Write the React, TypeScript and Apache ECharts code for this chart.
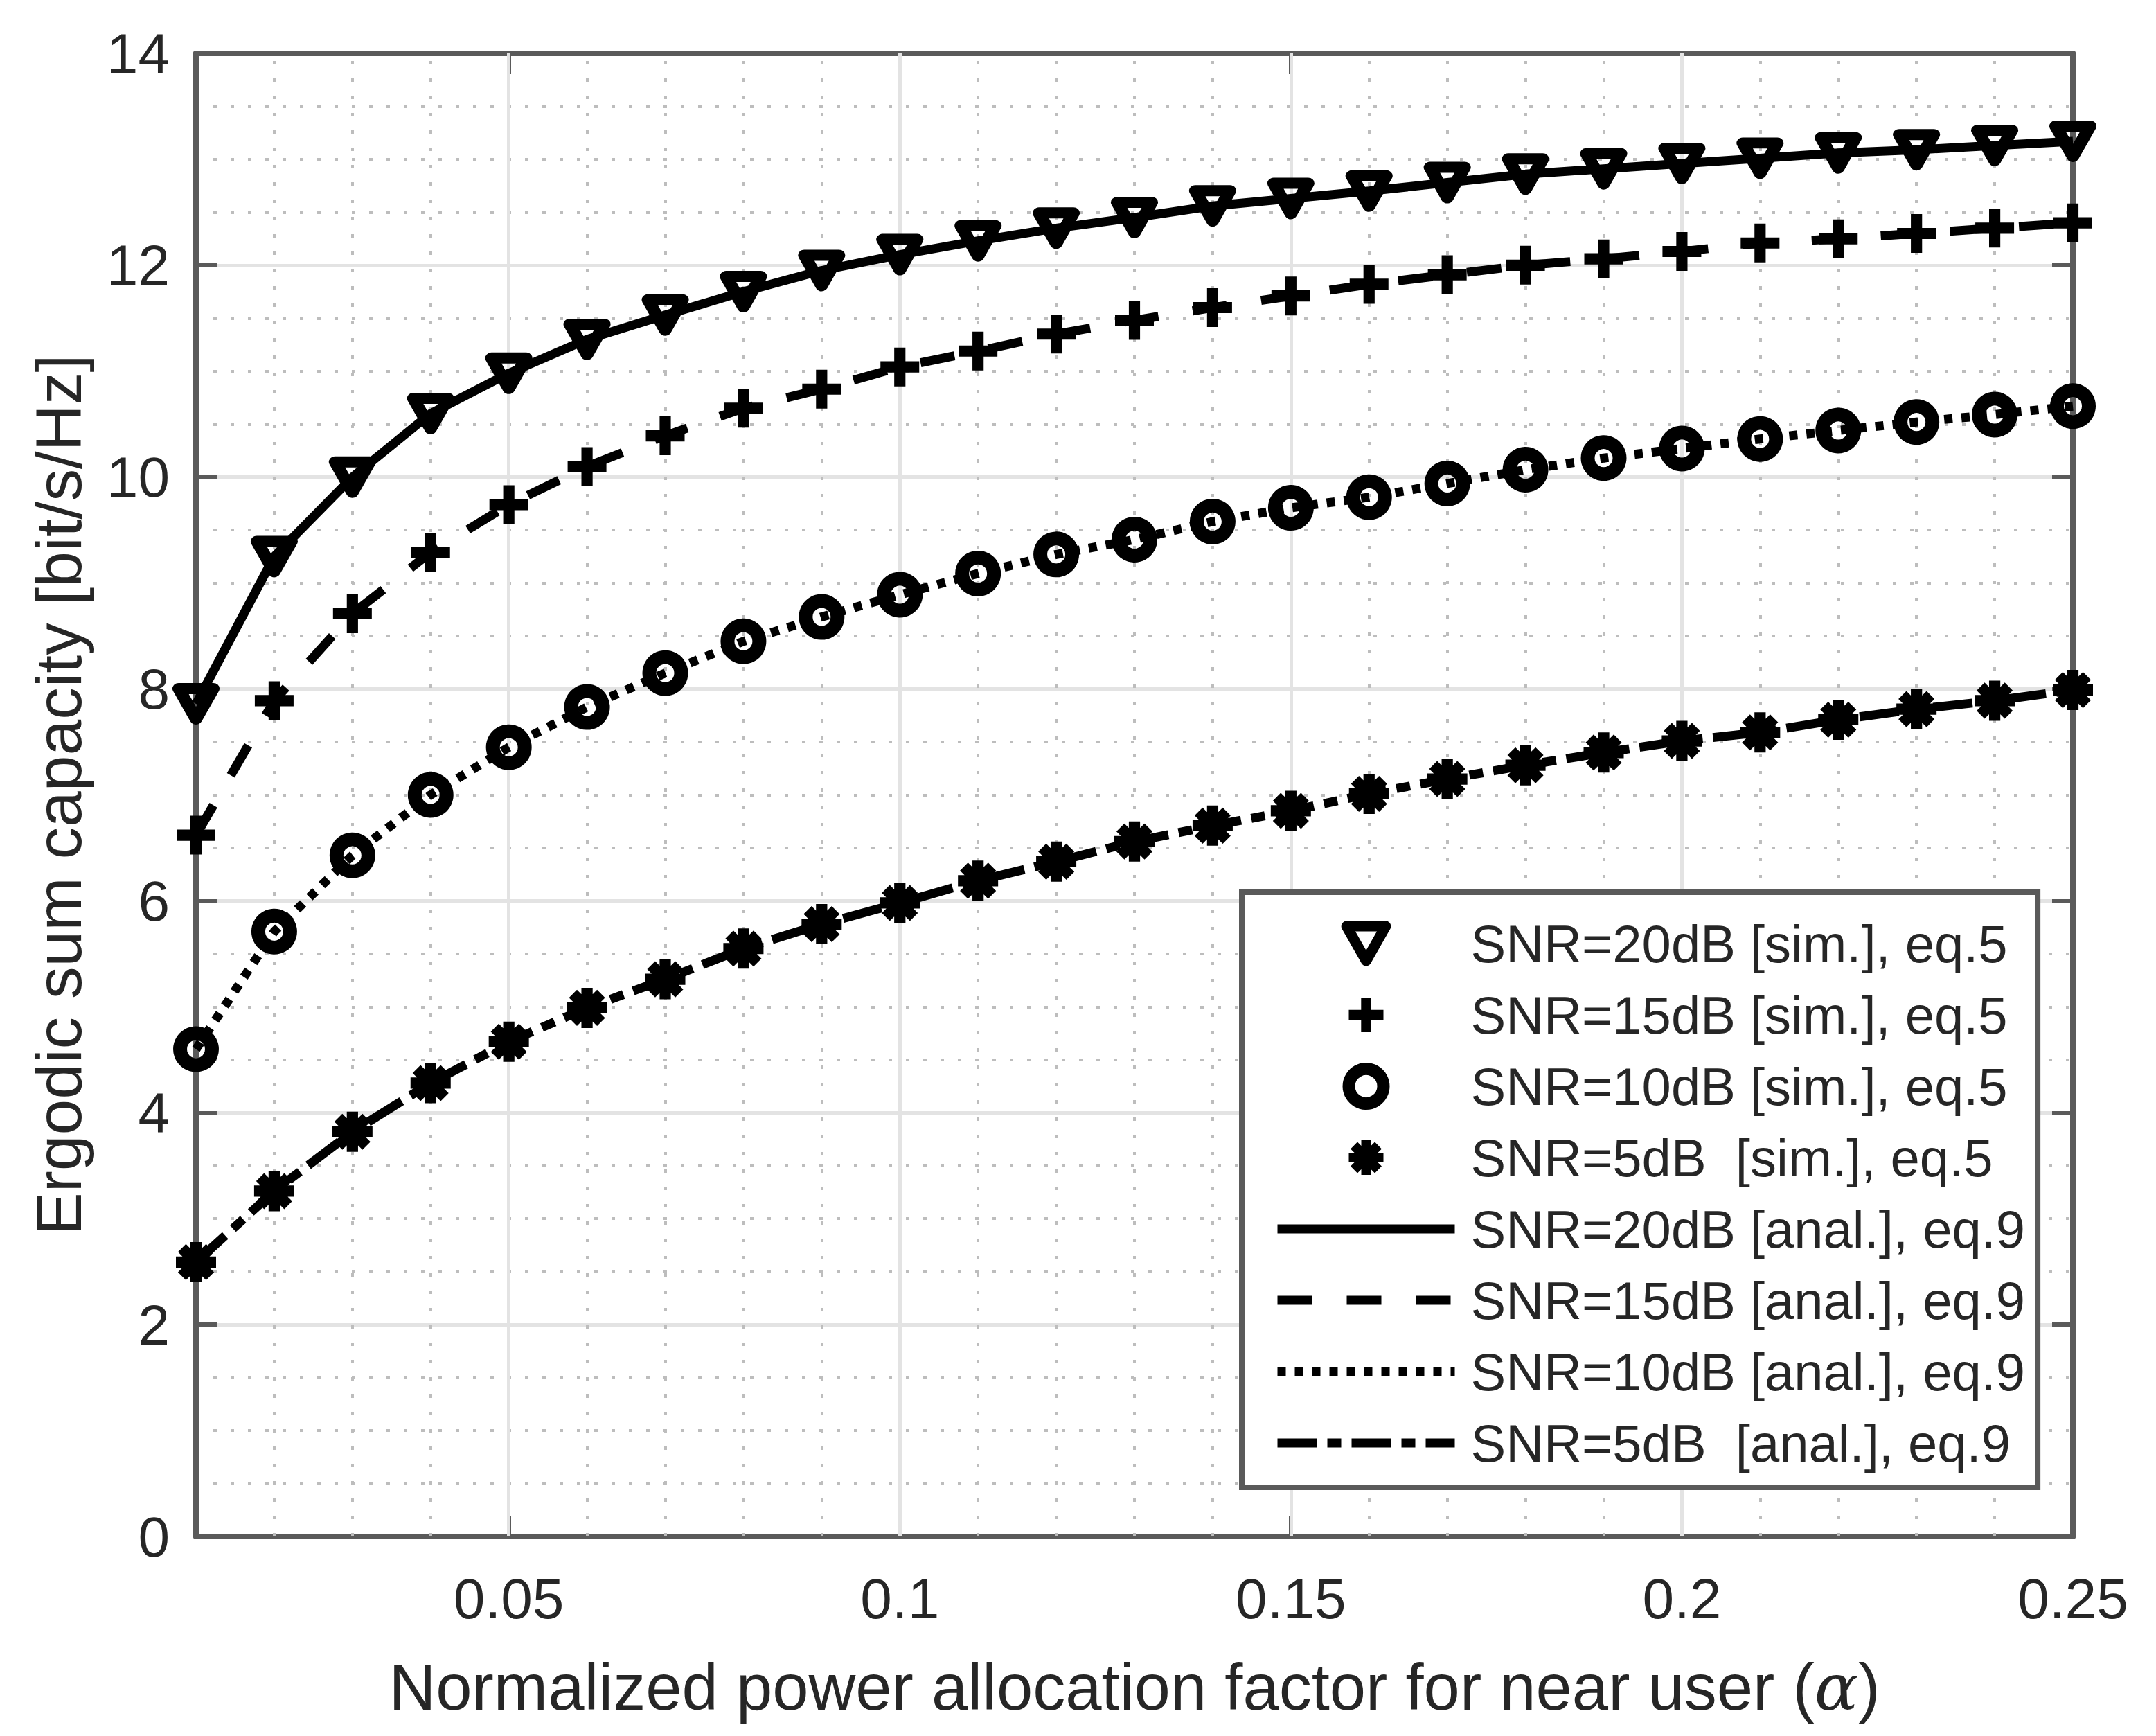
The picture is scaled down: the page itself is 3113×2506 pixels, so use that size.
import React, { useEffect, useRef } from "react";
import * as echarts from "echarts";

const alpha = [0.01, 0.02, 0.03, 0.04, 0.05, 0.06, 0.07, 0.08, 0.09, 0.1, 0.11, 0.12, 0.13, 0.14, 0.15, 0.16, 0.17, 0.18, 0.19, 0.2, 0.21, 0.22, 0.23, 0.24, 0.25];
const snr20 = [7.86, 9.25, 10.0, 10.6, 10.98, 11.3, 11.53, 11.75, 11.95, 12.1, 12.23, 12.35, 12.45, 12.56, 12.63, 12.7, 12.78, 12.86, 12.91, 12.96, 13.01, 13.06, 13.09, 13.13, 13.17];
const snr15 = [6.62, 7.89, 8.71, 9.29, 9.74, 10.1, 10.39, 10.65, 10.83, 11.04, 11.19, 11.35, 11.48, 11.6, 11.71, 11.82, 11.91, 12.0, 12.06, 12.13, 12.21, 12.25, 12.3, 12.35, 12.4];
const snr10 = [4.6, 5.71, 6.43, 7.0, 7.45, 7.83, 8.15, 8.45, 8.68, 8.89, 9.09, 9.27, 9.41, 9.58, 9.71, 9.81, 9.94, 10.07, 10.18, 10.27, 10.36, 10.44, 10.52, 10.59, 10.67];
const snr5 = [2.59, 3.26, 3.82, 4.28, 4.67, 4.99, 5.26, 5.55, 5.78, 5.98, 6.19, 6.37, 6.56, 6.71, 6.85, 7.01, 7.15, 7.28, 7.4, 7.51, 7.59, 7.71, 7.81, 7.89, 7.99];

const xTickValues = [0.05, 0.1, 0.15, 0.2, 0.25];
const xMinorGrid = [0.02, 0.03, 0.04, 0.06, 0.07, 0.08, 0.09, 0.11, 0.12, 0.13, 0.14, 0.16, 0.17, 0.18, 0.19, 0.21, 0.22, 0.23, 0.24];
const yMin = 0;
const yMax = 14;
const yStep = 2;

const simNames = [
  "SNR=20dB [sim.], eq.5",
  "SNR=15dB [sim.], eq.5",
  "SNR=10dB [sim.], eq.5",
  "SNR=5dB  [sim.], eq.5",
];
const analNames = [
  "SNR=20dB [anal.], eq.9",
  "SNR=15dB [anal.], eq.9",
  "SNR=10dB [anal.], eq.9",
  "SNR=5dB  [anal.], eq.9",
];
const xTitle = "Normalized power allocation factor for near user ({a|α})";
const yTitle = "Ergodic sum capacity [bit/s/Hz]";

const FONT = "'Liberation Sans', Arial, Helvetica, sans-serif";
const TXT = "#262626";
const AX = "#5a5a5a";

const TRI_DOWN = "path://M0,0H100L50,88Z";
const PLUS = "path://M6.4,0H11.6V6.4H18V11.6H11.6V18H6.4V11.6H0V6.4H6.4Z";
const STAR =
  "path://M0,36H100V64H0Z M36,0H64V100H36Z M5.1,24.9L24.9,5.1L94.9,75.1L75.1,94.9Z M94.9,24.9L24.9,94.9L5.1,75.1L75.1,5.1Z";

const dashes: (string | number[])[] = ["solid", [50, 50], [12, 13], [57, 15, 20, 15]];

export default function App() {
  const ref = useRef<HTMLDivElement>(null);

  useEffect(() => {
    document.body.style.margin = "0";
    if (!ref.current) return;
    const chart = echarts.init(ref.current, null, { renderer: "svg" });

    const values = [snr20, snr15, snr10, snr5];
    const pairs = values.map((arr) => alpha.map((a, i) => [a, arr[i]]));

    const simStyles = [
      { symbol: TRI_DOWN, symbolSize: [50, 44], itemStyle: { color: "rgba(0,0,0,0)", borderColor: "#000", borderWidth: 17, borderJoin: "round", opacity: 1 } },
      { symbol: PLUS, symbolSize: 56, itemStyle: { color: "#000", borderWidth: 0, opacity: 1 } },
      { symbol: "circle", symbolSize: 46, itemStyle: { color: "rgba(0,0,0,0)", borderColor: "#000", borderWidth: 20, opacity: 1 } },
      { symbol: STAR, symbolSize: 58, itemStyle: { color: "#000", borderWidth: 0, opacity: 1 } },
    ];

    const simSeries = simNames.map((name, k) => ({
      name,
      type: "scatter",
      data: pairs[k],
      symbol: simStyles[k].symbol,
      symbolSize: simStyles[k].symbolSize,
      itemStyle: simStyles[k].itemStyle,
      z: 4,
      silent: true,
    }));

    const analSeries = analNames.map((name, k) => ({
      name,
      type: "line",
      data: pairs[k],
      symbol: "none",
      showSymbol: false,
      color: "#000",
      itemStyle: { color: "#000" },
      lineStyle: { color: "#000", width: 13, type: dashes[k], cap: "butt", join: "round", opacity: 1 },
      z: 3,
      silent: true,
    }));

    const gridSeries = {
      name: "grid",
      type: "line",
      data: [],
      silent: true,
      z: 1,
      markLine: {
        silent: true,
        symbol: ["none", "none"],
        label: { show: false },
        z: 1,
        animation: false,
        data: [
          ...xMinorGrid.map((v) => ({ xAxis: v, lineStyle: { color: "#bdbdbd", width: 4, type: [5, 20] } })),
          ...xTickValues.slice(0, 4).map((v) => ({ xAxis: v, lineStyle: { color: "#e3e3e3", width: 5, type: "solid" } })),
        ],
      },
    };

    const legendData = [
      { name: simNames[0], itemStyle: { color: "rgba(0,0,0,0)", borderColor: "#000", borderWidth: 15, borderJoin: "round", opacity: 1 } },
      { name: simNames[1], itemStyle: { color: "#000", borderWidth: 0, opacity: 1 } },
      { name: simNames[2], itemStyle: { color: "rgba(0,0,0,0)", borderColor: "#000", borderWidth: 18, opacity: 1 } },
      { name: simNames[3], itemStyle: { color: "#000", borderWidth: 0, opacity: 1 } },
      ...analNames.map((name, k) => ({
        name,
        itemStyle: { color: "rgba(0,0,0,0)", borderColor: "rgba(0,0,0,0)", borderWidth: 0, opacity: 0 },
        lineStyle: { color: "#000", width: 13, type: dashes[k], opacity: 1 },
      })),
    ];

    const axisLine = { show: true, onZero: false, lineStyle: { color: AX, width: 8 } };

    const option = {
      animation: false,
      backgroundColor: "#fff",
      grid: { left: 283, top: 77, width: 2710, height: 2141, containLabel: false },
      legend: {
        show: true,
        orient: "vertical",
        left: 1793,
        top: 1288,
        data: legendData,
        selectedMode: false,
        symbolKeepAspect: true,
        itemWidth: 256,
        itemHeight: 50,
        itemGap: 27,
        padding: [36, 18, 26, 45],
        backgroundColor: "#fff",
        borderColor: AX,
        borderWidth: 8,
        textStyle: { fontSize: 76, fontFamily: FONT, color: TXT, lineHeight: 70, padding: [0, 0, 0, 18] },
      },
      xAxis: [
        {
          type: "value",
          min: 0.01,
          max: 0.25,
          position: "bottom",
          axisLine,
          axisTick: { show: true, inside: true, length: 30, customValues: xTickValues, lineStyle: { color: AX, width: 6 } },
          axisLabel: { show: true, customValues: xTickValues, margin: 48, fontSize: 82, fontFamily: FONT, color: TXT, formatter: (v: number) => String(v) },
          splitLine: { show: false },
          name: xTitle,
          nameLocation: "middle",
          nameGap: 170,
          nameTextStyle: {
            fontSize: 94,
            fontFamily: FONT,
            color: TXT,
            rich: { a: { fontSize: 94, fontFamily: "'DejaVu Serif', serif", fontStyle: "italic", color: TXT } },
          },
        },
        {
          type: "value",
          min: 0.01,
          max: 0.25,
          position: "top",
          axisLine,
          axisTick: { show: true, inside: true, length: 30, customValues: xTickValues, lineStyle: { color: AX, width: 6 } },
          axisLabel: { show: false },
          splitLine: { show: false },
        },
      ],
      yAxis: [
        {
          type: "value",
          min: yMin,
          max: yMax,
          interval: yStep,
          position: "left",
          axisLine,
          axisTick: { show: true, inside: true, length: 30, lineStyle: { color: AX, width: 6 } },
          axisLabel: { show: true, margin: 38, fontSize: 82, fontFamily: FONT, color: TXT },
          splitLine: { show: true, lineStyle: { color: "#e3e3e3", width: 5 } },
          minorTick: { show: false, splitNumber: 4 },
          minorSplitLine: { show: true, lineStyle: { color: "#bdbdbd", width: 4, type: [5, 20] } },
          name: yTitle,
          nameLocation: "middle",
          nameRotate: 90,
          nameGap: 152,
          nameTextStyle: { fontSize: 93, fontFamily: FONT, color: TXT },
        },
        {
          type: "value",
          min: yMin,
          max: yMax,
          interval: yStep,
          position: "right",
          axisLine,
          axisTick: { show: true, inside: true, length: 30, lineStyle: { color: AX, width: 6 } },
          axisLabel: { show: false },
          splitLine: { show: false },
        },
      ],
      series: [gridSeries, ...analSeries, ...simSeries],
    };

    chart.setOption(option as any);
    return () => chart.dispose();
  }, []);

  return <div ref={ref} style={{ width: 3113, height: 2506 }} />;
}
